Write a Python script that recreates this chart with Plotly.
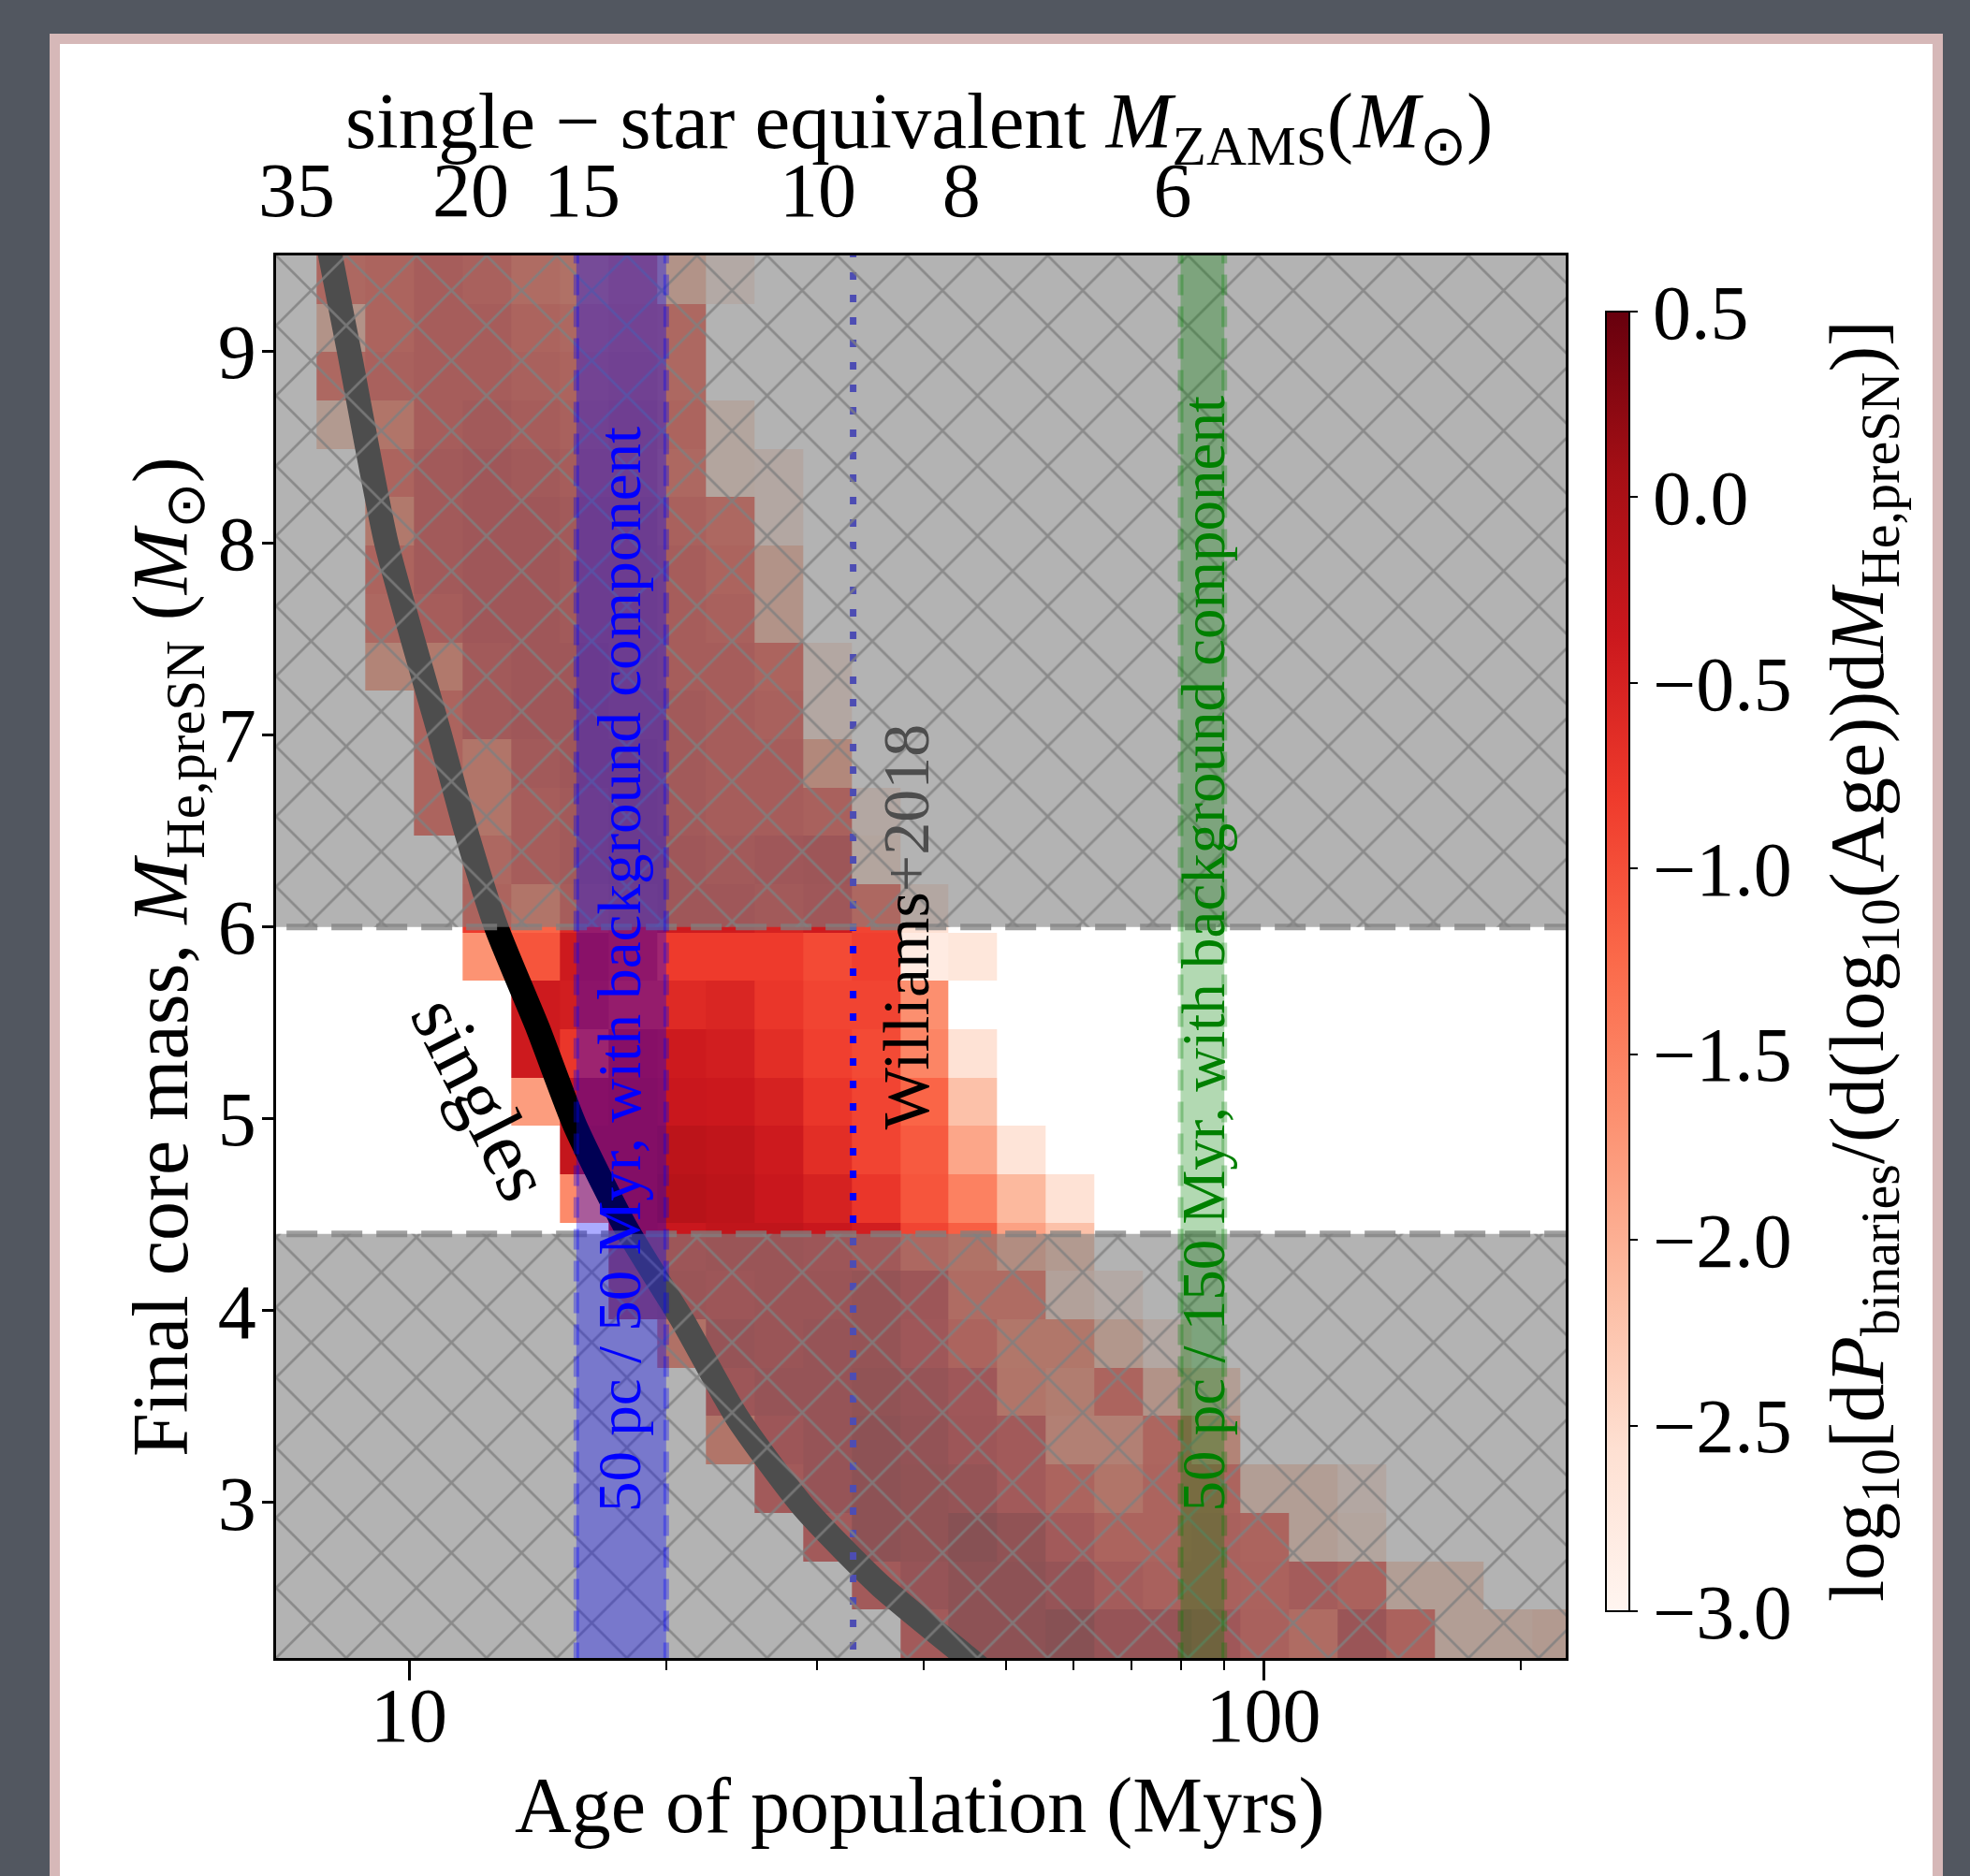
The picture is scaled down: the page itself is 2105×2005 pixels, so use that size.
import numpy as np
import plotly.graph_objects as go

# ---------------- data ----------------
# log-age histogram column edges (Myr)
age_edges = [7.796, 8.889, 10.132, 11.551, 13.168, 15.012, 17.114, 19.510, 22.241,
             25.355, 28.905, 32.951, 37.565, 42.824, 48.820, 55.655, 63.447, 72.330,
             82.456, 93.974, 107.13, 122.13, 139.23, 158.72, 180.95, 206.28, 235.16]
# final core mass row edges (Msun), top -> bottom
mass_edges = [9.5, 9.248, 8.996, 8.744, 8.492, 8.240, 7.988, 7.736, 7.483, 7.231,
              6.979, 6.727, 6.475, 6.223, 5.971, 5.719, 5.467, 5.215, 4.963, 4.711,
              4.459, 4.207, 3.955, 3.703, 3.451, 3.198, 2.946, 2.694, 2.442, 2.190]
N = None
# log10 probability density, rows top -> bottom, 26 age columns
z_rows = [
    [-0.9, -0.8, -0.6, -0.7, -1.0, -1.1, -0.9, -2.0, -2.7] + [N] * 17,
    [-2.0, -0.8, -0.6, -0.6, -0.8, -0.9, -0.8, -0.9] + [N] * 18,
    [-0.9, -0.7, -0.6, -0.6, -0.7, -0.8, -0.7, -0.9] + [N] * 18,
    [-2.2, -1.2, -0.6, -0.5, -0.6, -0.7, -0.6, -0.8, -2.5] + [N] * 17,
    [N, -0.8, -0.5, -0.4, -0.5, -0.6, -0.6, -0.9, -2.5, -2.6] + [N] * 16,
    [N, -1.3, -0.5, -0.4, -0.4, -0.5, -0.5, -0.7, -0.9, -2.6] + [N] * 16,
    [N, -0.8, -0.5, -0.4, -0.4, -0.5, -0.5, -0.6, -0.8, -2.0] + [N] * 16,
    [N, -0.9, -0.6, -0.4, -0.4, -0.5, -0.5, -0.6, -0.7, -2.0] + [N] * 16,
    [N, -1.6, -1.3, -0.5, -0.4, -0.4, -0.5, -0.6, -0.6, -0.8, -2.6] + [N] * 15,
    [N, N, -0.8, -0.5, -0.4, -0.4, -0.5, -0.5, -0.6, -0.7, -2.6] + [N] * 15,
    [N, N, -0.8, -1.2, -0.5, -0.4, -0.4, -0.5, -0.6, -0.6, -1.7] + [N] * 15,
    [N, N, -0.8, -1.2, -0.6, -0.5, -0.4, -0.5, -0.6, -0.6, -0.7, -2.6] + [N] * 14,
    [N, N, N, -0.9, -0.6, -0.5, -0.4, -0.4, -0.5, -0.4, -0.35, -2.5] + [N] * 14,
    [N, N, N, -0.8, -1.2, -0.6, -0.5, -0.4, -0.4, -0.5, -0.4, -0.9, -2.6] + [N] * 13,
    [N, N, N, -1.7, -1.05, -0.4, -0.5, -0.8, -0.8, -0.8, -0.95, -0.85, -2.8, -2.7] + [N] * 12,
    [N, N, N, N, -0.4, -0.45, -0.6, -0.6, -0.55, -0.75, -0.9, -0.9, -1.65] + [N] * 13,
    [N, N, N, N, -0.4, -0.75, -0.35, -0.4, -0.45, -0.65, -0.85, -0.95, -1.55, -2.6] + [N] * 12,
    [N, N, N, N, -1.8, -0.35, -0.3, -0.35, -0.38, -0.5, -0.75, -0.9, -1.2, -2.2] + [N] * 12,
    [N, N, N, N, N, -0.3, -0.3, -0.2, -0.25, -0.4, -0.65, -0.9, -1.1, -1.9, -2.65] + [N] * 11,
    [N, N, N, N, N, -1.6, -0.3, -0.15, -0.2, -0.35, -0.5, -0.75, -1.05, -1.5, -2.1, -2.6] + [N] * 10,
    [N] * 6 + [-0.3, -0.35, -0.25, -0.25, -0.35, -0.45, -0.9, -1.15, -1.85, -2.2] + [N] * 10,
    [N] * 6 + [-0.4, -0.25, -0.35, -0.25, -0.25, -0.1, -0.35, -1.0, -1.0, -2.4, -2.7] + [N] * 9,
    [N] * 7 + [-1.1, -0.15, -0.25, -0.15, -0.1, -0.4, -0.8, -1.25, -1.25, -2.1, -2.6] + [N] * 8,
    [N] * 8 + [-0.35, -0.15, -0.15, 0.0, -0.15, -0.4, -1.2, -1.4, -0.8, -2.0, -2.3] + [N] * 7,
    [N] * 8 + [-1.2, -0.35, -0.15, 0.1, -0.05, -0.35, -0.5, -1.5, -1.5, -0.85, -1.6] + [N] * 7,
    [N] * 9 + [-0.5, -0.15, 0.1, 0.0, -0.1, -0.5, -0.8, -1.2, -0.8, -0.8, -2.3, -2.3, -2.6] + [N] * 4,
    [N] * 10 + [-0.5, 0.1, 0.0, 0.2, 0.0, -0.5, -0.8, -0.8, -0.7, -0.8, -2.3, -2.5] + [N] * 4,
    [N] * 11 + [-0.5, -0.15, 0.1, 0.1, -0.15, -0.55, -0.7, -0.7, -0.75, -0.55, -0.75, -2.3, -2.3] + [N] * 2,
    [N] * 12 + [-0.5, 0.1, 0.1, 0.2, -0.15, -0.15, -0.4, -0.7, -1.0, -0.25, -0.75, -2.3, -2.3, -2.2],
]

# single-star track: age (Myr) vs final He-core mass
singles_age = [7.86, 8.09, 8.51, 9.41, 10.87, 11.66, 12.65, 14.16, 15.66, 17.95,
               20.9, 24.24, 28.97, 35.56, 45.1, 48.6]
singles_mass = [9.8, 9.5, 9.0, 8.0, 7.0, 6.5, 6.0, 5.47, 4.96, 4.43,
                3.95, 3.44, 2.976, 2.57, 2.19, 2.07]

# observational constraints
blue_band = [15.7, 20.0]     # Myr, 50 pc / 50 Myr
green_band = [80.0, 90.0]    # Myr, 50 pc / 150 Myr
williams_age = 33.1          # Myr
mass_window = [4.4, 6.0]     # allowed core-mass window

# top axis: single-star equivalent ZAMS mass
top_masses = ["35", "20", "15", "10", "8", "6"]
top_ages = [7.39, 11.81, 15.95, 30.1, 44.3, 78.3]

cb_vals = [0.5, 0.0, -0.5, -1.0, -1.5, -2.0, -2.5, -3.0]
cb_text = ["0.5", "0.0", "\u22120.5", "\u22121.0", "\u22121.5", "\u22122.0", "\u22122.5", "\u22123.0"]

x_major = [10, 100]
x_minor = [20, 30, 40, 50, 60, 70, 80, 90, 200]
y_ticks = [3, 4, 5, 6, 7, 8, 9]

# ---------------- figure ----------------
FONT = "Liberation Serif, Times New Roman, serif"
W, H = 2105, 2005
ML, MR, MT, MB = 295, 432, 273, 233
PW, PH = W - ML - MR, H - MT - MB
XR = [0.84447, 2.35378]
YR = [2.19, 9.5]


def px_x(p):
    return (p - ML) / PW


def px_y(p):
    return (H - MB - p) / PH


reds = [[0.0, "rgb(255,245,240)"], [0.125, "rgb(254,224,210)"], [0.25, "rgb(252,187,161)"],
        [0.375, "rgb(252,146,114)"], [0.5, "rgb(251,106,74)"], [0.625, "rgb(239,59,44)"],
        [0.75, "rgb(203,24,29)"], [0.875, "rgb(165,15,21)"], [1.0, "rgb(103,0,13)"]]

fig = go.Figure()

fig.add_trace(go.Heatmap(
    x=age_edges, y=mass_edges[::-1], z=z_rows[::-1],
    zmin=-3.0, zmax=0.5, colorscale=reds, hoverinfo="skip",
    colorbar=dict(x=px_x(1716), xanchor="left", xpad=0, y=px_y(1027.5), yanchor="middle",
                  ypad=0, len=1389 / PH, lenmode="fraction", thickness=25,
                  thicknessmode="pixels", outlinewidth=2, outlinecolor="black",
                  tickvals=cb_vals, ticktext=cb_text, ticks="outside", ticklen=8,
                  tickwidth=2, tickcolor="black",
                  tickfont=dict(size=82, family=FONT, color="black")),
))

# single-star curve
fig.add_trace(go.Scatter(x=singles_age, y=singles_mass, mode="lines",
                         line=dict(color="black", width=26, shape="spline", smoothing=0.6),
                         hoverinfo="skip", showlegend=False))

# Williams+2018 dotted line
fig.add_trace(go.Scatter(x=[williams_age, williams_age], y=[2.0, 9.8], mode="lines",
                         line=dict(color="blue", width=7, dash="8px,16px"),
                         hoverinfo="skip", showlegend=False))

# grey excluded regions with hatch
regions = [(mass_window[1], 9.9), (2.0, mass_window[0])]
for (lo, hi) in regions:
    fig.add_trace(go.Scatter(x=[5, 300, 300, 5, 5], y=[lo, lo, hi, hi, lo], mode="lines",
                             fill="toself", fillcolor="rgba(128,128,128,0.6)",
                             line=dict(width=0), hoverinfo="skip", showlegend=False))
    fig.add_trace(go.Scatter(x=[5, 300, 300, 5, 5], y=[lo, lo, hi, hi, lo], mode="lines",
                             fill="toself", fillcolor="rgba(0,0,0,0)",
                             fillpattern=dict(shape="x", size=53, solidity=0.1,
                                              fgcolor="#808080", fgopacity=0.8,
                                              bgcolor="rgba(0,0,0,0)"),
                             line=dict(width=0), hoverinfo="skip", showlegend=False))
for yv in mass_window:
    fig.add_trace(go.Scatter(x=[5, 300], y=[yv, yv], mode="lines",
                             line=dict(color="rgba(128,128,128,0.75)", width=7, dash="33px,15px"),
                             hoverinfo="skip", showlegend=False))

# age bands
for band, rgba in [(blue_band, "rgba(0,0,255,0.33)"), (green_band, "rgba(0,128,0,0.3)")]:
    fig.add_trace(go.Scatter(x=[band[0], band[1], band[1], band[0], band[0]],
                             y=[1.5, 1.5, 10, 10, 1.5], mode="lines", fill="toself",
                             fillcolor=rgba, line=dict(width=0),
                             hoverinfo="skip", showlegend=False))
    for xv in band:
        fig.add_trace(go.Scatter(x=[xv, xv], y=[1.5, 10], mode="lines",
                                 line=dict(color=rgba, width=6, dash="22px,12px"),
                                 hoverinfo="skip", showlegend=False))

# dummy trace for top axis
fig.add_trace(go.Scatter(x=top_ages, y=[5] * len(top_ages), xaxis="x2", mode="markers",
                         marker=dict(opacity=0), hoverinfo="skip", showlegend=False))

C = dict(xanchor="center", yanchor="middle", showarrow=False)
annotations = [
    dict(x=np.log10(17.64), y=5.78, xref="x", yref="y", textangle=-90,
         text="50 pc / 50 Myr, with background component",
         font=dict(size=65, family=FONT, color="blue"), **C),
    dict(x=np.log10(85.1), y=5.86, xref="x", yref="y", textangle=-90,
         text="50 pc / 150 Myr, with background component",
         font=dict(size=65, family=FONT, color="green"), **C),
    dict(x=np.log10(38.2), y=6.0, xref="x", yref="y", textangle=-90,
         text='Williams<span style="color:#4d4d4d">+2018</span>',
         font=dict(size=70, family=FONT, color="black"), **C),
    dict(x=np.log10(12.16), y=5.105, xref="x", yref="y", textangle=63,
         text="singles", font=dict(size=83, family=FONT, color="black"), **C),
    dict(x=px_x(983), y=px_y(1930), xref="paper", yref="paper",
         text="Age of population (Myrs)", font=dict(size=84, family=FONT, color="black"), **C),
    dict(x=px_x(178), y=px_y(1023), xref="paper", yref="paper", textangle=-90,
         text="Final core mass, <i>M</i><sub>He,preSN</sub> (<i>M</i><sub>\u2299</sub>)",
         font=dict(size=84, family=FONT, color="black"), **C),
    dict(x=px_x(982), y=px_y(136), xref="paper", yref="paper",
         text="single \u2212 star equivalent <i>M</i><sub>ZAMS</sub>(<i>M</i><sub>\u2299</sub>)",
         font=dict(size=85, family=FONT, color="black"), **C),
    dict(x=px_x(1990), y=px_y(1027), xref="paper", yref="paper", textangle=-90,
         text="log<sub>10</sub>[d<i>P</i><sub>binaries</sub>/(d(log<sub>10</sub>(Age))d<i>M</i><sub>He,preSN</sub>)]",
         font=dict(size=83, family=FONT, color="black"), **C),
]

fig.update_layout(
    width=W, height=H,
    margin=dict(l=ML, r=MR, t=MT, b=MB, autoexpand=False),
    paper_bgcolor="#525760", plot_bgcolor="rgba(0,0,0,0)",
    showlegend=False,
    font=dict(family=FONT, color="black"),
    xaxis=dict(type="log", range=XR, showgrid=False, zeroline=False,
               showline=True, linecolor="black", linewidth=2.5, mirror=True,
               tickvals=x_major, ticktext=[str(v) for v in x_major],
               ticks="outside", ticklen=21, tickwidth=2.5, tickcolor="black",
               ticklabelstandoff=-33,
               tickfont=dict(size=82, family=FONT, color="black"),
               minor=dict(tickvals=x_minor, ticks="outside", ticklen=10, tickwidth=2,
                          tickcolor="black")),
    xaxis2=dict(type="log", range=XR, overlaying="x", side="top", anchor="y",
                showgrid=False, zeroline=False, showline=False,
                tickvals=top_ages, ticktext=top_masses,
                ticks="outside", ticklen=8, tickcolor="rgba(0,0,0,0)",
                tickfont=dict(size=82, family=FONT, color="black")),
    yaxis=dict(range=YR, showgrid=False, zeroline=False, showline=True, linecolor="black",
               linewidth=2.5, mirror=True, tickvals=y_ticks, ticks="outside", ticklen=12,
               tickwidth=2.5, tickcolor="black", ticklabelstandoff=-10,
               tickfont=dict(size=82, family=FONT, color="black")),
    shapes=[dict(type="rect", xref="paper", yref="paper",
                 x0=px_x(58.5), x1=px_x(2070.5), y0=px_y(2100), y1=px_y(41.5),
                 fillcolor="white", line=dict(color="#d6b8b8", width=11), layer="below")],
    annotations=annotations,
)

fig.write_html("out.html", config={"displayModeBar": False},
               post_script="document.body.style.margin='0px';")
